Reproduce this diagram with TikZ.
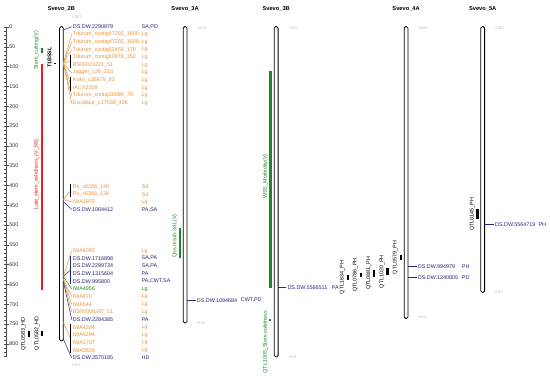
\documentclass[tikz,border=0pt]{standalone}
\usepackage{fontspec}
\setmainfont{Liberation Sans}
\usetikzlibrary{positioning,calc}
\definecolor{mkorange}{RGB}{233,146,56}
\definecolor{mknavy}{RGB}{38,38,122}
\definecolor{mkgreen}{RGB}{28,138,36}
\definecolor{mkred}{RGB}{236,28,36}
\newcommand{\mkfont}{\fontsize{5.4}{6}\selectfont}

\begin{document}
\begin{tikzpicture}[x=1pt,y=-1pt]
\tikzset{
  chrom/.style={draw=black,line width=0.8pt,fill=white,rounded corners=1.6pt},
  chromtitle/.style={font=\bfseries\fontsize{5.7}{6}\selectfont,inner sep=0pt},
  mk/.style={font=\mkfont,inner sep=1pt,anchor=west},
  endtxt/.style={font=\fontsize{4.6}{5}\selectfont,text=black!22,inner sep=0pt,anchor=west},
  qlab/.style={font=\mkfont,rotate=90,inner sep=0pt},
  link/.style={line width=0.5pt},
  brk/.style={line width=0.6pt},
}
\useasboundingbox (0,0) rectangle (550,378);

% scale ruler
\draw[line width=0.3pt,black!70] (5.8,27) -- (5.8,356.7);
\foreach \v in {0,10,...,830}
  \draw[line width=0.3pt,black!70] (3.8,27+0.396*\v) -- (5.8,27+0.396*\v);
\foreach \v in {0,50,...,800}
  \draw[line width=0.3pt,black!70] (5.8,27+0.396*\v) -- (8.8,27+0.396*\v)
    node[right=0.4pt,font=\mkfont,inner sep=0pt,text=black!80] (r\v) {\v};

% chromosome titles
\node[chromtitle] (c2B) at (61.4,8.5) {Svevo\_2B};
\node[chromtitle] (c3A) at (185.1,8.5) {Svevo\_3A};
\node[chromtitle] (c3B) at (276.2,8.5) {Svevo\_3B};
\node[chromtitle] (c4A) at (406.1,8.5) {Svevo\_4A};
\node[chromtitle] (c5A) at (482.7,8.5) {Svevo\_5A};

% chromosome bars
\draw[chrom] (59.5,26.5) rectangle (63.3,341);
\draw[chrom] (183.2,26.5) rectangle (187,323);
\draw[chrom] (274.3,26.5) rectangle (278.1,357);
\draw[chrom] (404.2,26.5) rectangle (408,318.5);
\draw[chrom] (480.8,26.5) rectangle (484.6,292.5);

\node[endtxt] (s2B) at (72,17) {start};
\node[endtxt] (e2B) at (72,364.5) {end};
\node[endtxt] (s3A) at (197.7,28) {start};
\node[endtxt] (e3A) at (196.7,322.7) {end};
\node[endtxt] (s3B) at (288.3,28) {start};
\node[endtxt] (e3B) at (288.3,357.3) {end};
\node[endtxt] (s4A) at (418.3,28) {start};
\node[endtxt] (e4A) at (418.3,317.3) {end};
\node[endtxt] (s5A) at (495,28) {start};
\node[endtxt] (e5A) at (495,291.7) {end};

% 2B markers, upper block
\foreach \i/\nm/\tr/\cl in {
  1/DS.DW.2290879/{SA,PD}/mknavy,
  2/Tdurum\_contig47202\_1699/Lg/mkorange,
  3/Tdurum\_contig47202\_1699/Lg/mkorange,
  4/Tdurum\_contig62458\_179/Lg/mkorange,
  5/Tdurum\_contig60978\_352/Lg/mkorange,
  6/BS00023221\_51/Lg/mkorange,
  7/Jagger\_c36\_213/Lg/mkorange,
  8/Kukri\_c36879\_83/Lg/mkorange,
  9/IACX2309/Lg/mkorange,
  10/Tdurum\_contig30989\_79/Lg/mkorange,
  11/Excalibur\_c17038\_436/Lg/mkorange} {
  \pgfmathsetmacro\yy{26.7+7.65*(\i-1)}
  \node[mk,text=\cl] (ta\i) at (71.7,\yy) {\nm};
  \node[mk,text=\cl] (ta\i t) at (140.5,\yy) {\tr};
}
\coordinate (ja) at (63.3,30);
\coordinate (jb) at (63.3,63.3);
\draw[link,mknavy] (ja) -- (ta1.west);
\foreach \i in {2,3,4,7,10,11}
  \draw[link,mkorange] (jb) -- (ta\i.west);
\draw[link,mkorange] (jb) -- ($(ta5.west)!0.5!(ta6.west)+(-1,0)$);
\draw[link,mkorange] (jb) -- ($(ta8.west)!0.5!(ta9.west)+(-1,0)$);
\draw[brk] ([xshift=-1pt,yshift=2.8pt]ta5.west) -- ([xshift=-1pt,yshift=-2.8pt]ta6.west);
\draw[brk] ([xshift=-1pt,yshift=2.8pt]ta8.west) -- ([xshift=-1pt,yshift=-2.8pt]ta9.west);

% 2B markers, middle block
\foreach \i/\nm/\tr/\cl in {
  1/Rx\_c6266\_140/Sd/mkorange,
  2/Rx\_c6266\_136/Sd/mkorange,
  3/IWA2972/Lg/mkorange,
  4/DS.DW.1064412/{PA,SA}/mknavy} {
  \pgfmathsetmacro\yy{186.7+7.6*(\i-1)}
  \node[mk,text=\cl] (tb\i) at (71.7,\yy) {\nm};
  \node[mk,text=\cl] (tb\i t) at (140.5,\yy) {\tr};
}
\coordinate (jc) at (63.3,199.5);
\coordinate (jd) at (63.3,201.7);
\draw[link,mkorange] (jc) -- ($(tb1.west)!0.5!(tb2.west)+(-1,0)$);
\draw[link,mkorange] (jc) -- (tb3.west);
\draw[link,mknavy] (jd) -- (tb4.west);
\draw[brk] ([xshift=-1pt,yshift=2.8pt]tb1.west) -- ([xshift=-1pt,yshift=-2.8pt]tb2.west);

% 2B markers, lower block
\foreach \i/\nm/\tr/\cl in {
  1/IWA6093/Lg/mkorange,
  2/DS.DW.1716898/{SA,PA}/mknavy,
  3/DS.DW.2299734/{SA,PA}/mknavy,
  4/DS.DW.1315604/PA/mknavy,
  5/DS.DW.995800/{PA,CWT,SA}/mknavy,
  6/IWA4956/Lg/mkgreen,
  7/IWA470/Lg/mkorange,
  8/IWA544/Lg/mkorange,
  9/BS00009247\_51/Lg/mkorange,
  10/DS.DW.2284385/PA/mknavy,
  11/IWA4294/Lg/mkorange,
  12/IWA4294/Lg/mkorange,
  13/IWA1707/Lg/mkorange,
  14/IWA5629/Lg/mkorange,
  15/DS.DW.3570185/HD/mknavy} {
  \pgfmathsetmacro\yy{250.7+7.65*(\i-1)}
  \node[mk,text=\cl] (tc\i) at (71.7,\yy) {\nm};
  \node[mk,text=\cl] (tc\i t) at (140.5,\yy) {\tr};
}
\coordinate (je) at (63.3,276.5);
\coordinate (jf) at (63.3,279);
\coordinate (jg) at (63.3,281);
\coordinate (jh) at (63.3,322);
\coordinate (ji) at (63.3,339);
\draw[link,mkorange] (je) -- (tc1.west);
\draw[link,mknavy] (je) -- ($(tc3.west)!0.5!(tc4.west)+(-1,0)$);
\draw[link,mkgreen] (je) -- (tc6.west);
\foreach \i in {7,8,9}
  \draw[link,mkorange] (jf) -- (tc\i.west);
\draw[link,mknavy] (jg) -- (tc10.west);
\draw[link,mkorange] (jh) -- ($(tc12.west)!0.5!(tc13.west)+(-1,0)$);
\draw[link,mknavy] (ji) -- (tc15.west);
\draw[brk,mknavy] ([xshift=-1pt,yshift=2.8pt]tc2.west) -- ([xshift=-1pt,yshift=-2.8pt]tc5.west);
\draw[brk] ([xshift=-1pt,yshift=2.8pt]tc11.west) -- ([xshift=-1pt,yshift=-2.8pt]tc14.west);

% 2B QTLs
\fill[mkgreen] (41,47.7) rectangle (43.4,53.3);
\node[qlab,text=mkgreen] (qstc) at (36.5,50.5) {Stem\_cutting(V)};
\fill[mkred] (41,64.3) rectangle (43.4,290);
\node[qlab,text=mkred] (qlss) at (36.5,175) {Late\_stem\_solidness\_(V\_68)};
\node[qlab,font=\bfseries\mkfont] (qt1b) at (49.5,57.5) {T1BSSL};
\draw[line width=0.6pt] (53.5,63.3) -- (56,63.3);
\fill (27.7,331) rectangle (30,337);
\node[qlab] (q583) at (23.5,334) {QTL0583\_HD};
\fill (41,331) rectangle (43.3,335.7);
\node[qlab] (q582) at (37,333.4) {QTL0582\_HD};

% 3A
\fill[mkgreen] (179,228.3) rectangle (181.3,257.7);
\node[qlab,text=mkgreen] (q3al) at (175,236) {Qss.msub-3AL(V)};
\coordinate (k3a) at (187,300.3);
\node[mk,text=mknavy] (m3a) at (195.7,300.3) {DS.DW.1094684};
\node[mk,text=mknavy] (m3a t) at (239.7,300.3) {CWT,PD};
\draw[link,mknavy] (k3a) -- (m3a.west);

% 3B
\fill[mkgreen] (269,71) rectangle (271.6,287.7);
\node[qlab,text=mkgreen] (qwss) at (265.5,176.5) {WSS\_Morbidity(V)};
\fill[mkgreen] (269.3,319.3) rectangle (271.3,321.3);
\node[qlab,text=mkgreen] (q1005) at (265.5,342) {QTL1005\_Stem-solidness};
\coordinate (k3b) at (278.1,287.7);
\node[mk,text=mknavy] (m3b) at (286.3,287.7) {DS.DW.5566511};
\node[mk,text=mknavy] (m3b t) at (330.7,287.7) {PA};
\draw[link,mknavy] (k3b) -- (m3b.west);

% plant height QTLs near 4A
\foreach \nm/\bx/\ya/\yb in {1634/346.5/275/280, 0786/359.5/272.7/277.3,
    0881/373/270/276.7, 1020/386.3/268.3/275, 0579/399.5/255/260} {
  \fill (\bx,\ya) rectangle (\bx+2.3,\yb);
  \node[qlab] (q\nm) at (\bx-4.3,\ya/2+\yb/2) {QTL\nm\_PH};
}

% 4A
\coordinate (k4a1) at (408,266.3);
\coordinate (k4a2) at (408,277.3);
\node[mk,text=mknavy] (m4a1) at (416.7,266.3) {DS.DW.994979};
\node[mk,text=mknavy] (m4a1 t) at (460.7,266.3) {PH};
\node[mk,text=mknavy] (m4a2) at (416.7,277.3) {DS.DW.1240805};
\node[mk,text=mknavy] (m4a2 t) at (460.7,277.3) {PD};
\draw[link,mknavy] (k4a1) -- (m4a1.west);
\draw[link,mknavy] (k4a2) -- (m4a2.west);

% 5A
\fill (476.2,209.3) rectangle (478.5,219.3);
\node[qlab] (q0145) at (472.2,214.3) {QTL0145\_PH};
\coordinate (k5a) at (484.6,224.3);
\node[mk,text=mknavy] (m5a) at (494,224.3) {DS.DW.5564719};
\node[mk,text=mknavy] (m5a t) at (537.3,224.3) {PH};
\draw[link,mknavy] (k5a) -- (m5a.west);
\end{tikzpicture}
\end{document}
